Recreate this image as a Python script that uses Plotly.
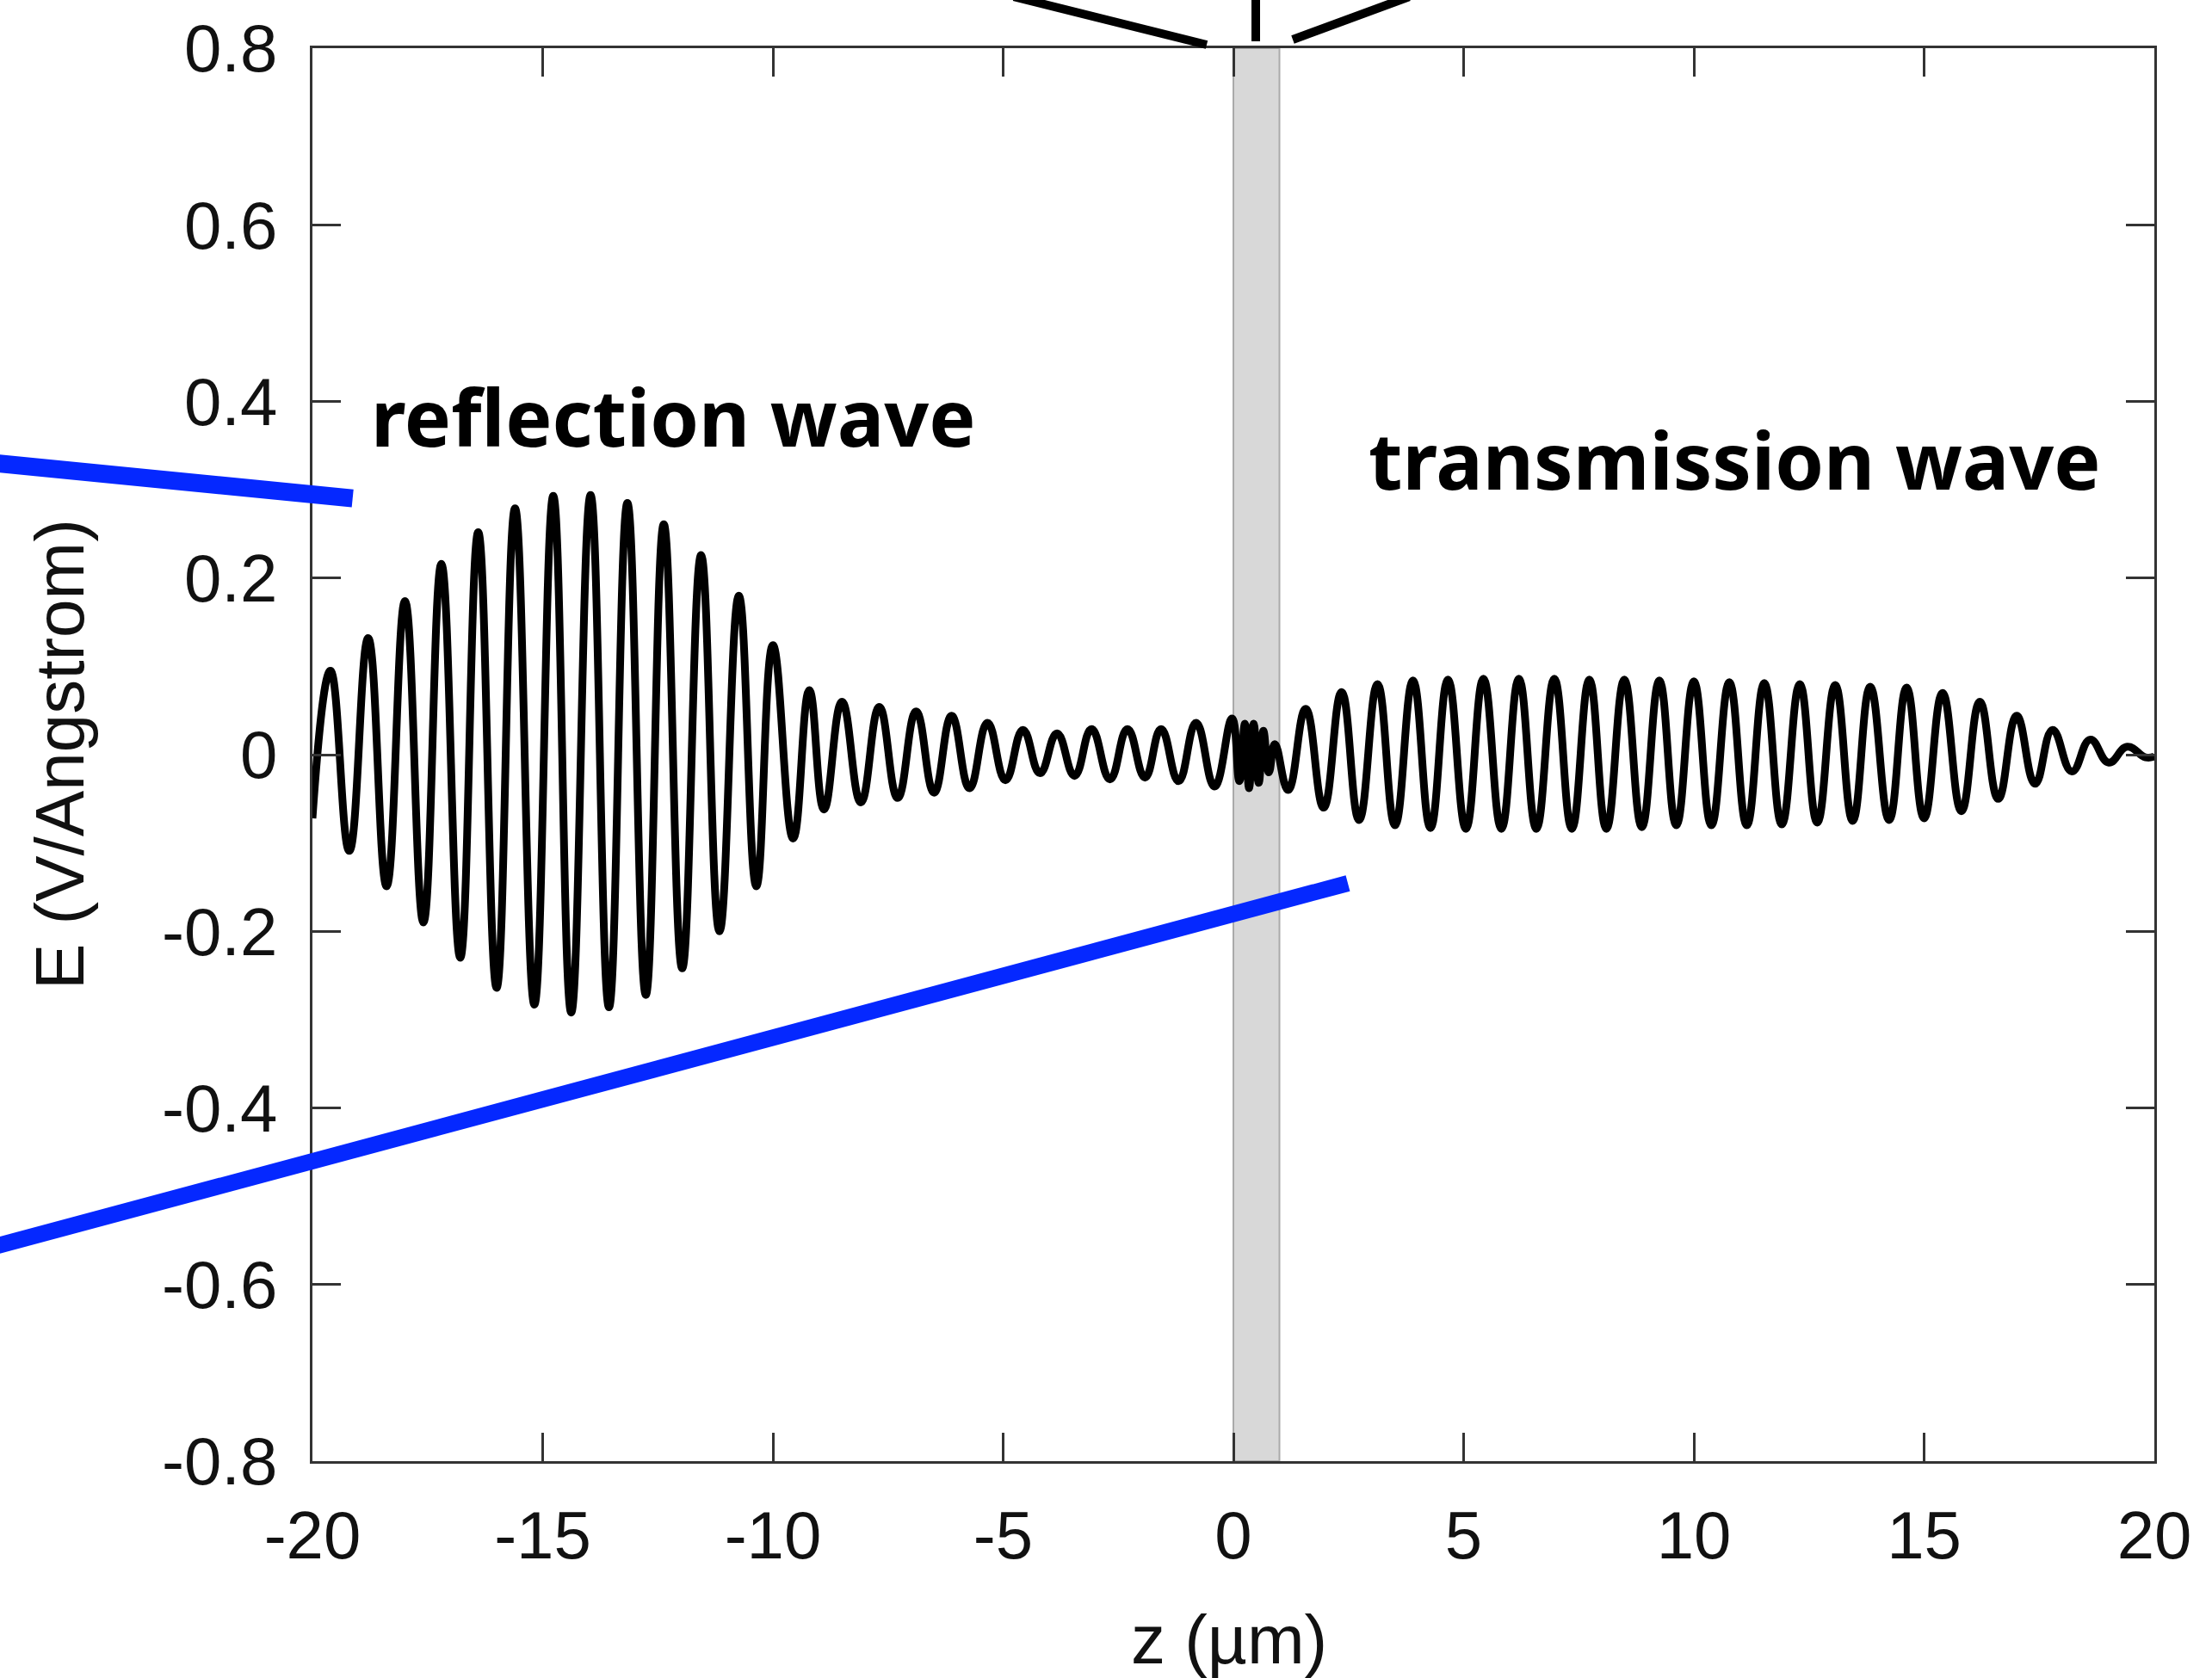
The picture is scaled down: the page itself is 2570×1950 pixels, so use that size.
import plotly.graph_objects as go

# ---- data (extrema of the field trace) ----
z_um = [
    -20.00, -19.61, -19.20, -18.79, -18.39, -17.99, -17.59, -17.20, -16.79, -16.40,
    -16.00, -15.60, -15.18, -14.77, -14.38, -13.96, -13.56, -13.16, -12.76, -12.37,
    -11.97, -11.56, -11.16, -10.74, -10.36, -10.00, -9.56, -9.21, -8.89, -8.50,
    -8.09, -7.69, -7.29, -6.89, -6.50, -6.12, -5.73, -5.34, -4.95, -4.57,
    -4.20, -3.83, -3.45, -3.08, -2.68, -2.30, -1.92, -1.57, -1.19, -0.81,
    -0.41, -0.03, 0.13, 0.25, 0.34, 0.44, 0.55, 0.65, 0.77, 0.90,
    1.19, 1.57, 1.96, 2.35, 2.73, 3.13, 3.51, 3.90, 4.28, 4.66,
    5.05, 5.43, 5.82, 6.20, 6.58, 6.97, 7.35, 7.73, 8.10, 8.49,
    8.87, 9.25, 9.62, 10.00, 10.38, 10.77, 11.15, 11.53, 11.91, 12.30,
    12.68, 13.07, 13.45, 13.83, 14.24, 14.62, 15.00, 15.40, 15.81, 16.21,
    16.61, 17.01, 17.41, 17.79, 18.21, 18.61, 19.01, 19.41, 19.81, 20.00,
]
e_field = [
    -0.072, 0.095, -0.109, 0.132, -0.149, 0.174, -0.190, 0.216, -0.230, 0.252,
    -0.264, 0.279, -0.283, 0.293, -0.292, 0.294, -0.286, 0.285, -0.272, 0.261,
    -0.242, 0.226, -0.200, 0.180, -0.149, 0.124, -0.095, 0.073, -0.062, 0.060,
    -0.054, 0.054, -0.049, 0.049, -0.043, 0.044, -0.038, 0.036, -0.029, 0.028,
    -0.021, 0.024, -0.024, 0.029, -0.028, 0.029, -0.026, 0.029, -0.030, 0.036,
    -0.036, 0.041, -0.030, 0.035, -0.038, 0.035, -0.032, 0.027, -0.020, 0.012,
    -0.040, 0.052, -0.060, 0.071, -0.074, 0.080, -0.080, 0.084, -0.083, 0.085,
    -0.084, 0.086, -0.084, 0.086, -0.084, 0.086, -0.084, 0.085, -0.084, 0.085,
    -0.082, 0.084, -0.080, 0.083, -0.080, 0.082, -0.080, 0.081, -0.079, 0.080,
    -0.077, 0.079, -0.075, 0.077, -0.074, 0.076, -0.072, 0.070, -0.064, 0.060,
    -0.050, 0.044, -0.033, 0.028, -0.019, 0.017, -0.009, 0.009, -0.003, -0.002,
]

x_tick_vals = [-20, -15, -10, -5, 0, 5, 10, 15, 20]
x_tick_text = ["-20", "-15", "-10", "-5", "0", "5", "10", "15", "20"]
y_tick_vals = [0.8, 0.6, 0.4, 0.2, 0.0, -0.2, -0.4, -0.6, -0.8]
y_tick_text = ["0.8", "0.6", "0.4", "0.2", "0", "-0.2", "-0.4", "-0.6", "-0.8"]
slab_z = [0.0, 1.0]

# ---- layout geometry (pixels) ----
W, H = 2570, 1950
L, R, T, B = 363, 67, 50, 252
PW, PH = W - L - R, H - T - B


def px(xp):
    return (xp - L) / PW


def py(yp):
    return (H - B - yp) / PH


fig = go.Figure()
fig.add_trace(go.Scatter(
    x=z_um, y=e_field, mode="lines",
    line=dict(color="black", width=9, shape="spline", smoothing=1.3),
    hoverinfo="skip", showlegend=False,
))

BLUE = "#0528ff"
shapes = [
    # slab
    dict(type="rect", xref="x", yref="paper", x0=slab_z[0], x1=slab_z[1], y0=0, y1=1,
         fillcolor="#d8d8d8", line=dict(color="#aaaaaa", width=2), layer="below"),
    # blue pointer lines
    dict(type="line", xref="paper", yref="paper",
         x0=px(-10), y0=py(533.5), x1=px(409.7), y1=py(575),
         line=dict(color=BLUE, width=21)),
    dict(type="line", xref="paper", yref="paper",
         x0=px(-10), y0=py(1448.7), x1=px(1566), y1=py(1024),
         line=dict(color=BLUE, width=19)),
    # black lines above the slab
    dict(type="line", xref="paper", yref="paper",
         x0=px(1178), y0=py(-10), x1=px(1402), y1=py(46),
         line=dict(color="black", width=10)),
    dict(type="line", xref="paper", yref="paper",
         x0=px(1459), y0=py(-10), x1=px(1459), y1=py(42),
         line=dict(color="black", width=10)),
    dict(type="line", xref="paper", yref="paper",
         x0=px(1637), y0=py(-10), x1=px(1502), y1=py(40),
         line=dict(color="black", width=10)),
]

label_font = dict(family="Noto Sans", size=91, color="black", weight="bold")
axis_font = dict(family="Liberation Sans", size=78, color="#111111")
annotations = [
    dict(text="reflection wave", xref="paper", yref="paper", x=px(429), y=py(480),
         xanchor="left", yanchor="middle", showarrow=False, font=label_font),
    dict(text="transmission wave", xref="paper", yref="paper", x=px(1588), y=py(530),
         xanchor="left", yanchor="middle", showarrow=False, font=label_font),
    dict(text="E (V/Angstrom)", xref="paper", yref="paper", x=px(69), y=0.5,
         xanchor="center", yanchor="middle", textangle=-90, showarrow=False,
         font=dict(family="Liberation Sans", size=80, color="#111111")),
    dict(text="z (µm)", xref="paper", yref="paper", x=px(1428), y=py(1906),
         xanchor="center", yanchor="middle", showarrow=False,
         font=dict(family="Liberation Sans", size=80, color="#111111")),
]

axis_common = dict(
    showgrid=False, zeroline=False, showline=True, linecolor="#333333", linewidth=3,
    mirror="ticks", ticks="inside", ticklen=33, tickwidth=3, tickcolor="#333333",
    tickfont=axis_font,
)

fig.update_layout(
    width=W, height=H,
    margin=dict(l=L, r=R, t=T, b=B, pad=0),
    paper_bgcolor="white", plot_bgcolor="white",
    showlegend=False,
    xaxis=dict(range=[-20, 20], tickmode="array", tickvals=x_tick_vals,
               ticktext=x_tick_text, ticklabelstandoff=16, **axis_common),
    yaxis=dict(range=[-0.8, 0.8], tickmode="array", tickvals=y_tick_vals,
               ticktext=y_tick_text, ticklabelstandoff=22, **axis_common),
    shapes=shapes,
    annotations=annotations,
)

fig.write_html("out.html")
